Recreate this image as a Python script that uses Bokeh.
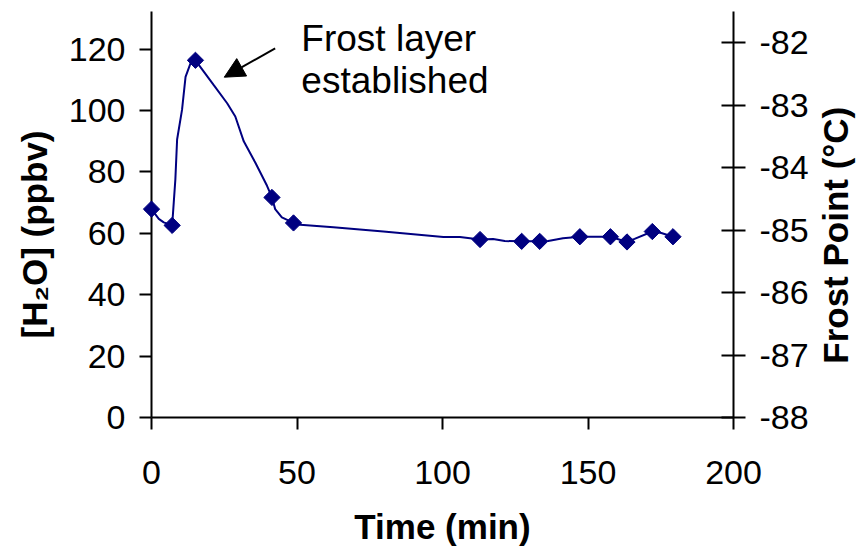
import math
from bokeh.plotting import figure
from bokeh.layouts import row
from bokeh.models import Range1d, LinearAxis, FixedTicker, Arrow, NormalHead, Label
from bokeh.embed import file_html
from bokeh.resources import INLINE

# ---- data ----
time_markers = [0, 7.1, 15.1, 41.4, 48.8, 112.9, 127.2, 133.4, 147.2, 157.7, 163.4, 172.1, 179.2]
h2o_markers = [67.9, 62.6, 116.4, 71.7, 63.4, 58.0, 57.4, 57.4, 58.9, 58.9, 57.2, 60.6, 58.9]

time_line = [0, 2.5, 4.2, 7.1, 7.65, 8.2, 8.8, 10.5, 11.7, 13.4, 15.1, 21.4, 26.0, 28.8,
             31.7, 35.7, 39.7, 41.4, 42.5, 44.8, 48.8, 51.1, 62.5, 79.7, 100.3, 106.0,
             112.9, 117.4, 121.4, 127.2, 133.4, 136.3, 141.4, 147.2, 157.7, 163.4, 166.0,
             172.1, 175.2, 179.2]
h2o_line = [67.9, 64.7, 63.6, 62.6, 70.1, 77.6, 90.6, 100.3, 111.0, 115.4, 116.4, 108.3,
            102.4, 98.1, 90.0, 83.0, 75.5, 71.7, 67.9, 65.2, 63.4, 62.8, 62.0, 60.6, 58.8,
            58.8, 58.0, 58.2, 57.5, 57.4, 57.4, 57.5, 58.4, 58.9, 58.9, 57.2, 58.2, 60.6,
            60.1, 58.9]

x_ticks = [0, 50, 100, 150, 200]
h2o_ticks = [0, 20, 40, 60, 80, 100, 120]
fp_ticks = [-88, -87, -86, -85, -84, -83, -82]
fp_tick_labels = ["-88", "-87", "-86", "-85", "-84", "-83", "-82"]

x_title = "Time (min)"
left_title = "[H\u2082O] (ppbv)"
right_title = "Frost Point (\u00b0C)"
note_lines = ["Frost layer", "established"]

FONT = "Liberation Sans"
NAVY = "#000080"
H = 548
LEFT_W, MAIN_W, RIGHT_W = 60, 755, 42
FT, FB = 11, 420   # frame top / bottom in canvas pixels

p = figure(width=MAIN_W, height=H, output_backend="svg", toolbar_location=None,
           x_range=Range1d(0, 200), y_range=Range1d(0, 132.3),
           min_border_left=151 - LEFT_W, min_border_right=LEFT_W + MAIN_W - 733,
           min_border_top=FT, min_border_bottom=H - FB)
p.outline_line_color = None
p.xgrid.visible = False
p.ygrid.visible = False
p.background_fill_color = "white"
p.border_fill_color = "white"

p.extra_y_ranges = {"fp": Range1d(-88, -81.5)}
raxis = LinearAxis(y_range_name="fp")
p.add_layout(raxis, "right")

def style(ax, ticks, tick_in, standoff):
    ax.ticker = FixedTicker(ticks=ticks)
    ax.axis_line_width = 2
    ax.axis_line_color = "black"
    ax.major_tick_line_width = 2
    ax.major_tick_line_color = "black"
    ax.major_tick_out = 12
    ax.major_tick_in = tick_in
    ax.minor_tick_line_color = None
    ax.major_label_text_font = FONT
    ax.major_label_text_font_size = "34px"
    ax.major_label_text_color = "black"
    ax.major_label_standoff = standoff

style(p.xaxis[0], x_ticks, 0, 31)
style(p.yaxis[0], h2o_ticks, 0, 14)
style(raxis, fp_ticks, 12, 14)
raxis.major_label_overrides = {t: s for t, s in zip(fp_ticks, fp_tick_labels)}

xa = p.xaxis[0]
xa.axis_label = x_title
xa.axis_label_text_font = FONT
xa.axis_label_text_font_style = "bold"
xa.axis_label_text_font_size = "35px"
xa.axis_label_text_color = "black"
xa.axis_label_standoff = 20

# data line and markers
p.line(time_line, h2o_line, line_color=NAVY, line_width=2)
r = p.scatter(time_markers, h2o_markers, marker="square", angle=math.pi / 4, size=11.5,
              fill_color=NAVY, line_color=NAVY)
r.level = "overlay"

# annotation
p.add_layout(Arrow(x_start=42.5, y_start=120.3, x_end=25.0, y_end=110.9, line_width=2,
                   line_color="black",
                   end=NormalHead(size=20, fill_color="black", line_color="black")))
p.add_layout(Label(x=51.5, y=123.6, text=note_lines[0], text_font=FONT,
                   text_font_size="37px", text_color="black", text_baseline="alphabetic"))
p.add_layout(Label(x=51.5, y=109.7, text=note_lines[1], text_font=FONT,
                   text_font_size="37px", text_color="black", text_baseline="alphabetic"))

# side strips carrying the vertical axis titles (read bottom to top)
def title_strip(width, text, cx, cy, size):
    s = figure(width=width, height=H, output_backend="svg", toolbar_location=None,
               x_range=Range1d(0, width), y_range=Range1d(0, H), min_border=0,
               x_axis_location=None, y_axis_location=None)
    s.outline_line_color = None
    s.grid.visible = False
    s.background_fill_color = "white"
    s.border_fill_color = "white"
    s.add_layout(Label(x=cx, y=H - cy, text=text, angle=math.pi / 2, text_font=FONT,
                       text_font_style="bold", text_font_size=size, text_color="black",
                       text_align="center", text_baseline="middle"))
    return s

left_strip = title_strip(LEFT_W, left_title, 34, 301, "35px")
right_strip = title_strip(RIGHT_W, right_title, 835 - LEFT_W - MAIN_W, 302, "35px")

layout = row(left_strip, p, right_strip, spacing=0)
open("out.html", "w").write(file_html(layout, INLINE))
